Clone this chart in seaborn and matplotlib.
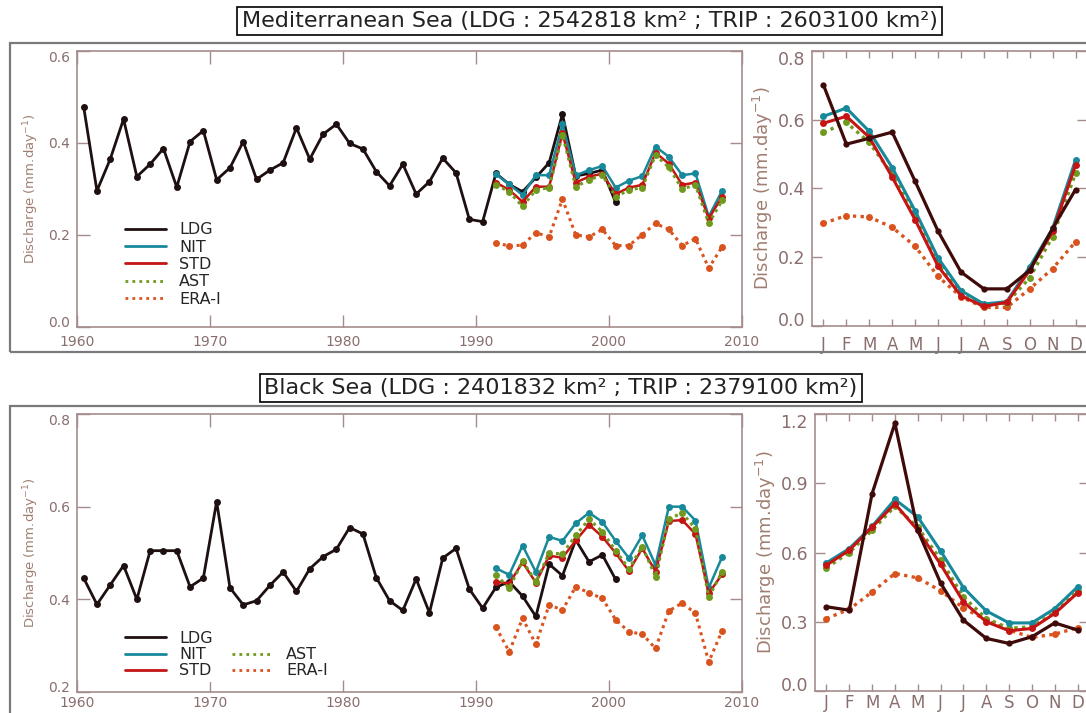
import numpy as np
import pandas as pd
import matplotlib
matplotlib.use("Agg")
import matplotlib.pyplot as plt
import seaborn as sns
from matplotlib.patches import Rectangle
from matplotlib.lines import Line2D

sns.set_theme(style="white")
plt.rcParams["font.family"] = ["DejaVu Sans"]

# ---------------- data ----------------
years_ldg = np.arange(1960, 2001)
years_sim = np.arange(1991, 2009)
month_labels = ["J", "F", "M", "A", "M", "J", "J", "A", "S", "O", "N", "D"]
month_num = np.arange(1, 13)

med_title = "Mediterranean Sea (LDG : 2542818 km² ; TRIP : 2603100 km²)"
blk_title = "Black Sea (LDG : 2401832 km² ; TRIP : 2379100 km²)"

med_ldg = [0.479, 0.296, 0.365, 0.452, 0.327, 0.354, 0.388, 0.304, 0.403, 0.427,
           0.320, 0.346, 0.403, 0.321, 0.341, 0.357, 0.433, 0.365, 0.419, 0.441,
           0.399, 0.387, 0.338, 0.307, 0.354, 0.289, 0.316, 0.367, 0.335, 0.234,
           0.229, 0.334, 0.310, 0.294, 0.325, 0.357, 0.463, 0.328, 0.334, 0.341,
           0.271]
med_nit = [0.332, 0.310, 0.287, 0.330, 0.330, 0.441, 0.330, 0.341, 0.350, 0.303,
           0.318, 0.328, 0.392, 0.370, 0.330, 0.334, 0.240, 0.296]
med_std = [0.314, 0.298, 0.272, 0.305, 0.305, 0.421, 0.314, 0.327, 0.333, 0.289,
           0.303, 0.309, 0.379, 0.355, 0.309, 0.314, 0.236, 0.283]
med_ast = [0.309, 0.294, 0.262, 0.298, 0.303, 0.418, 0.305, 0.320, 0.330, 0.283,
           0.298, 0.303, 0.374, 0.347, 0.300, 0.309, 0.225, 0.275]
med_era = [0.183, 0.176, 0.178, 0.205, 0.196, 0.278, 0.200, 0.196, 0.212, 0.177,
           0.177, 0.201, 0.225, 0.212, 0.177, 0.192, 0.128, 0.174]

med_m_ldg = [0.701, 0.529, 0.546, 0.564, 0.421, 0.276, 0.157, 0.108, 0.108, 0.162, 0.284, 0.397]
med_m_nit = [0.610, 0.634, 0.566, 0.461, 0.335, 0.198, 0.103, 0.064, 0.071, 0.172, 0.284, 0.483]
med_m_std = [0.590, 0.610, 0.549, 0.433, 0.309, 0.174, 0.088, 0.057, 0.069, 0.162, 0.275, 0.468]
med_m_ast = [0.563, 0.592, 0.534, 0.441, 0.324, 0.186, 0.101, 0.059, 0.067, 0.140, 0.260, 0.444]
med_m_era = [0.299, 0.321, 0.317, 0.287, 0.232, 0.144, 0.085, 0.054, 0.054, 0.108, 0.167, 0.245]

blk_ldg = [0.446, 0.389, 0.431, 0.473, 0.400, 0.505, 0.505, 0.505, 0.427, 0.446,
           0.611, 0.425, 0.388, 0.397, 0.430, 0.459, 0.417, 0.466, 0.492, 0.508,
           0.555, 0.541, 0.447, 0.397, 0.376, 0.444, 0.371, 0.489, 0.510, 0.422,
           0.381, 0.426, 0.438, 0.407, 0.363, 0.476, 0.451, 0.528, 0.481, 0.496,
           0.443]
blk_nit = [0.467, 0.453, 0.516, 0.459, 0.535, 0.526, 0.564, 0.587, 0.567, 0.526,
           0.489, 0.538, 0.474, 0.600, 0.600, 0.570, 0.425, 0.491]
blk_std = [0.438, 0.434, 0.480, 0.436, 0.494, 0.490, 0.527, 0.561, 0.535, 0.500,
           0.461, 0.510, 0.460, 0.569, 0.571, 0.541, 0.413, 0.454]
blk_ast = [0.453, 0.424, 0.483, 0.438, 0.500, 0.498, 0.538, 0.573, 0.546, 0.505,
           0.466, 0.514, 0.449, 0.573, 0.587, 0.552, 0.405, 0.459]
blk_era = [0.340, 0.287, 0.359, 0.303, 0.388, 0.377, 0.427, 0.414, 0.402, 0.356,
           0.330, 0.325, 0.294, 0.375, 0.392, 0.370, 0.265, 0.332]

blk_m_ldg = [0.365, 0.350, 0.855, 1.160, 0.696, 0.468, 0.307, 0.228, 0.206, 0.235, 0.295, 0.264]
blk_m_nit = [0.555, 0.617, 0.713, 0.830, 0.754, 0.607, 0.448, 0.347, 0.295, 0.295, 0.357, 0.451]
blk_m_std = [0.545, 0.610, 0.710, 0.811, 0.696, 0.549, 0.386, 0.300, 0.261, 0.271, 0.336, 0.425]
blk_m_ast = [0.533, 0.600, 0.696, 0.800, 0.710, 0.569, 0.408, 0.314, 0.272, 0.278, 0.341, 0.433]
blk_m_era = [0.314, 0.354, 0.429, 0.509, 0.490, 0.434, 0.360, 0.307, 0.264, 0.232, 0.246, 0.275]

# ---------------- style ----------------
W, H = 1086, 713
C_LDG_L = "#1e1010"
C_LDG_R = "#3f0a0a"
C_NIT = "#17899a"
C_STD = "#c41414"
C_AST = "#6f9a1e"
C_ERA = "#d9531e"
SPINE = "#a58c8c"
TXT = "#8a6e6e"
YLAB = "#a07f72"

fig = plt.figure(figsize=(W / 100, H / 100), dpi=100)


def px_rect(l, t, r, b):
    return [l / W, 1 - b / H, (r - l) / W, (b - t) / H]


def style_axes(ax, fs, xlen, ylen, xpad, ypad):
    for s in ax.spines.values():
        s.set_color(SPINE)
        s.set_linewidth(1.2)
    ax.tick_params(axis="x", which="both", direction="in", top=True, bottom=True,
                   length=xlen, width=1, color=SPINE, labelsize=fs, labelcolor=TXT, pad=xpad)
    ax.tick_params(axis="y", which="both", direction="in", left=True, right=True,
                   length=ylen, width=1, color=SPINE, labelsize=fs, labelcolor=TXT, pad=ypad)
    ax.grid(False)
    ax.set_facecolor("white")


def set_yticks_inside(ax, yticks):
    ax.set_yticks(yticks)
    labels = ax.set_yticklabels([f"{v:.1f}" for v in yticks])
    labels[0].set_va("baseline")
    labels[-1].set_va("top")


def plot_series(ax, x, y, color, dotted=False, lw=1.8, ms=5, z=2):
    ls = (0, (1, 1.3)) if dotted else "-"
    sns.lineplot(x=x, y=y, ax=ax, color=color, linewidth=lw, linestyle=ls,
                 marker="o", markersize=ms, markeredgewidth=0, zorder=z, legend=False)


def annual_panel(ax, ldg, nit, std, ast, era, ylim, yticks, xpad):
    xl = years_ldg + 0.5
    xs = years_sim + 0.5
    plot_series(ax, xs, era, C_ERA, dotted=True, lw=2.2, z=2)
    plot_series(ax, xl, ldg, C_LDG_L, lw=2.0, z=3)
    plot_series(ax, xs, nit, C_NIT, z=4)
    plot_series(ax, xs, std, C_STD, z=5)
    plot_series(ax, xs, ast, C_AST, dotted=True, lw=2.2, z=6)
    ax.set_xlim(1960, 2010)
    ax.set_ylim(*ylim)
    ax.set_xticks(np.arange(1960, 2011, 10))
    set_yticks_inside(ax, yticks)
    ax.set_xlabel("")
    ax.set_ylabel("Discharge (mm.day$^{-1}$)", color=YLAB, fontsize=9.5, labelpad=5)
    style_axes(ax, 10, 9, 9, xpad, 5)


def monthly_panel(ax, ldg, nit, std, ast, era, ylim, yticks, xpad):
    plot_series(ax, month_num, era, C_ERA, dotted=True, lw=2.4, z=2)
    plot_series(ax, month_num, ast, C_AST, dotted=True, lw=2.4, z=3)
    plot_series(ax, month_num, std, C_STD, lw=2.2, z=4)
    plot_series(ax, month_num, nit, C_NIT, lw=2.2, z=3.5)
    plot_series(ax, month_num, ldg, C_LDG_R, lw=2.3, ms=4.5, z=6)
    ax.set_xlim(0.5, 12.5)
    ax.set_ylim(*ylim)
    ax.set_xticks(month_num)
    ax.set_xticklabels(month_labels)
    set_yticks_inside(ax, yticks)
    ax.set_xlabel("")
    ax.set_ylabel("Discharge (mm.day$^{-1}$)", color=YLAB, fontsize=13, labelpad=2)
    style_axes(ax, 12.5, 5, 7, xpad, 5)
    ax.tick_params(axis="x", labelsize=12)


# outer frames
for (l, t, r, b) in [(10, 43, 1090, 352), (10, 406, 1090, 716)]:
    fig.patches.append(Rectangle((l / W, 1 - b / H), (r - l) / W, (b - t) / H,
                                 transform=fig.transFigure, fill=False,
                                 edgecolor="#7a7a7a", linewidth=1.6, zorder=0))

ax1 = fig.add_axes(px_rect(77, 51, 742, 327))
annual_panel(ax1, med_ldg, med_nit, med_std, med_ast, med_era, (0.0, 0.6), [0.0, 0.2, 0.4, 0.6], 6)
ax2 = fig.add_axes(px_rect(812, 51, 1087, 326))
monthly_panel(ax2, med_m_ldg, med_m_nit, med_m_std, med_m_ast, med_m_era, (0.0, 0.8), [0.0, 0.2, 0.4, 0.6, 0.8], 7)
ax3 = fig.add_axes(px_rect(77, 414, 742, 692))
annual_panel(ax3, blk_ldg, blk_nit, blk_std, blk_ast, blk_era, (0.2, 0.8), [0.2, 0.4, 0.6, 0.8], 3)
ax4 = fig.add_axes(px_rect(815, 414, 1089, 691))
monthly_panel(ax4, blk_m_ldg, blk_m_nit, blk_m_std, blk_m_ast, blk_m_era, (0.0, 1.2), [0.0, 0.3, 0.6, 0.9, 1.2], 2)

# legends
names = ["LDG", "NIT", "STD", "AST", "ERA-I"]
cols = [C_LDG_L, C_NIT, C_STD, C_AST, C_ERA]
dots = [False, False, False, True, True]
handles = [Line2D([], [], color=c, lw=2, linestyle=((0, (1, 1.5)) if d else "-"))
           for c, d in zip(cols, dots)]
leg1 = ax1.legend(handles, names, loc="upper left", bbox_to_anchor=(0.055, 0.42),
                  fontsize=11.5, frameon=True, facecolor="white", edgecolor="none",
                  framealpha=1, handlelength=2.6, handletextpad=0.8, labelspacing=0.15,
                  borderpad=0.2)
blank = Line2D([], [], color="none")
h2 = handles[:3] + [blank] + handles[3:]
n2 = names[:3] + [""] + names[3:]
leg2 = ax3.legend(h2, n2, loc="upper left", bbox_to_anchor=(0.055, 0.26), ncol=2,
                  fontsize=11.5, frameon=True, facecolor="white", edgecolor="none",
                  framealpha=1, handlelength=2.6, handletextpad=0.8, labelspacing=0.08,
                  borderpad=0.2, columnspacing=1.2)

# titles in boxes
fig.text(589.5 / W, 1 - 21 / H, med_title, ha="center", va="center", fontsize=16,
         color="#222222",
         bbox=dict(boxstyle="square,pad=0.2", facecolor="white", edgecolor="black", linewidth=1.2))
fig.text(561 / W, 1 - 388 / H, blk_title, ha="center", va="center", fontsize=16,
         color="#222222",
         bbox=dict(boxstyle="square,pad=0.2", facecolor="white", edgecolor="black", linewidth=1.2))

fig.savefig("out.png", dpi=100, facecolor="white")
